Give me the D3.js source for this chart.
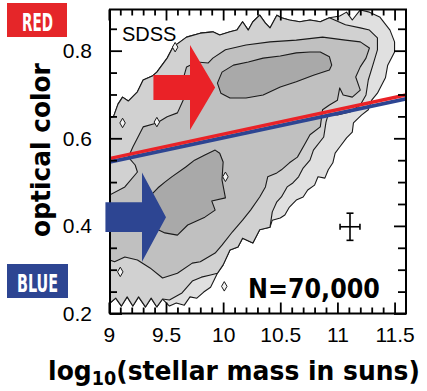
<!DOCTYPE html>
<html><head><meta charset="utf-8">
<script src="https://cdn.jsdelivr.net/npm/d3@7"></script>
<style>body{margin:0;background:#fff}svg{display:block}</style>
</head><body><svg id="c" width="427" height="391"></svg>
<script>
// ---------- data (stellar mass [log10 Msun], optical colour) ----------
const xTickValues = [9, 9.5, 10, 10.5, 11, 11.5];
const xTickLabels = ["9", "9.5", "10", "10.5", "11", "11.5"];
const xMinorTicks = [9.1,9.2,9.3,9.4,9.6,9.7,9.8,9.9,10.1,10.2,10.3,10.4,10.6,10.7,10.8,10.9,11.1,11.2,11.3,11.4];
const yTickValues = [0.2, 0.4, 0.6, 0.8];
const yTickLabels = ["0.2", "0.4", "0.6", "0.8"];
const yMinorTicks = [0.25,0.3,0.35,0.45,0.5,0.55,0.65,0.7,0.75,0.85];

const contourOuter = [[8.96,0.222],[8.96,0.642],[9.04,0.649],[9.08,0.678],[9.12,0.694],[9.17,0.685],[9.25,0.706],[9.30,0.733],[9.38,0.742],[9.42,0.751],[9.51,0.783],[9.56,0.808],[9.68,0.831],[9.80,0.840],[9.91,0.843],[9.97,0.836],[10.06,0.843],[10.12,0.847],[10.17,0.866],[10.22,0.847],[10.26,0.866],[10.32,0.881],[10.37,0.863],[10.41,0.852],[10.47,0.881],[10.51,0.875],[10.58,0.870],[10.67,0.866],[10.76,0.870],[10.85,0.866],[10.93,0.875],[11.02,0.879],[11.08,0.888],[11.13,0.870],[11.20,0.893],[11.28,0.888],[11.37,0.877],[11.46,0.847],[11.50,0.820],[11.50,0.797],[11.44,0.767],[11.42,0.738],[11.35,0.703],[11.30,0.687],[11.27,0.665],[11.21,0.653],[11.14,0.635],[11.13,0.614],[11.08,0.601],[11.02,0.580],[10.98,0.566],[10.96,0.544],[10.92,0.528],[10.89,0.509],[10.83,0.512],[10.80,0.493],[10.74,0.482],[10.70,0.466],[10.64,0.459],[10.58,0.443],[10.54,0.425],[10.50,0.418],[10.43,0.413],[10.41,0.397],[10.32,0.391],[10.26,0.361],[10.17,0.372],[10.13,0.352],[10.06,0.345],[10.00,0.311],[9.95,0.292],[9.89,0.260],[9.83,0.249],[9.77,0.235],[9.71,0.238],[9.66,0.219],[9.59,0.224],[9.53,0.217],[9.47,0.233],[9.42,0.215],[9.37,0.235],[9.32,0.215],[9.26,0.238],[9.21,0.217],[9.16,0.238],[9.11,0.217],[9.06,0.235],[9.01,0.224]];

const contourMid = [[8.96,0.222],[8.96,0.642],[9.04,0.649],[9.08,0.678],[9.12,0.694],[9.17,0.685],[9.25,0.706],[9.30,0.733],[9.38,0.742],[9.42,0.751],[9.51,0.783],[9.56,0.808],[9.68,0.831],[9.80,0.840],[9.91,0.843],[9.97,0.836],[10.06,0.843],[10.12,0.847],[10.17,0.866],[10.22,0.847],[10.26,0.866],[10.32,0.881],[10.37,0.863],[10.41,0.852],[10.47,0.881],[10.51,0.875],[10.58,0.870],[10.67,0.866],[10.76,0.870],[10.85,0.866],[10.93,0.875],[11.07,0.859],[11.20,0.852],[11.28,0.847],[11.35,0.829],[11.35,0.802],[11.31,0.767],[11.27,0.733],[11.25,0.699],[11.20,0.676],[11.11,0.660],[11.00,0.653],[10.92,0.655],[10.90,0.637],[10.88,0.603],[10.79,0.573],[10.76,0.550],[10.70,0.532],[10.66,0.512],[10.61,0.498],[10.56,0.489],[10.51,0.466],[10.47,0.455],[10.43,0.432],[10.41,0.397],[10.32,0.391],[10.26,0.361],[10.17,0.372],[10.13,0.352],[10.06,0.345],[10.00,0.311],[9.95,0.292],[9.89,0.288],[9.81,0.283],[9.73,0.274],[9.64,0.247],[9.53,0.231],[9.47,0.233],[9.42,0.215],[9.37,0.235],[9.32,0.215],[9.26,0.238],[9.21,0.217],[9.16,0.238],[9.11,0.217],[9.06,0.235],[9.01,0.224]];

const contourMain = [[8.96,0.327],[8.96,0.471],[9.01,0.471],[9.14,0.489],[9.25,0.523],[9.23,0.539],[9.17,0.557],[9.21,0.580],[9.30,0.626],[9.42,0.635],[9.51,0.649],[9.60,0.658],[9.65,0.687],[9.64,0.726],[9.68,0.763],[9.77,0.774],[9.87,0.772],[9.91,0.783],[10.02,0.802],[10.20,0.813],[10.41,0.820],[10.64,0.824],[10.87,0.831],[11.07,0.824],[11.20,0.820],[11.28,0.806],[11.25,0.783],[11.20,0.763],[11.16,0.740],[11.20,0.710],[11.13,0.694],[11.05,0.699],[11.02,0.715],[11.00,0.687],[10.93,0.676],[10.87,0.665],[10.85,0.626],[10.76,0.608],[10.72,0.589],[10.65,0.557],[10.58,0.544],[10.51,0.528],[10.47,0.521],[10.39,0.512],[10.37,0.489],[10.32,0.466],[10.24,0.436],[10.17,0.413],[10.08,0.386],[9.99,0.356],[9.93,0.338],[9.80,0.318],[9.73,0.315],[9.60,0.292],[9.47,0.281],[9.36,0.304],[9.25,0.322],[9.14,0.329],[9.05,0.318]];

const coreRed = [[9.95,0.726],[9.99,0.751],[10.09,0.767],[10.22,0.774],[10.35,0.783],[10.50,0.788],[10.64,0.795],[10.76,0.797],[10.85,0.797],[10.93,0.786],[10.95,0.767],[10.93,0.756],[10.79,0.744],[10.64,0.729],[10.50,0.717],[10.35,0.699],[10.20,0.692],[10.06,0.692],[9.98,0.703]];

const coreBlue = [[9.36,0.468],[9.43,0.487],[9.49,0.500],[9.55,0.512],[9.67,0.534],[9.75,0.550],[9.84,0.562],[9.93,0.573],[9.97,0.566],[10.00,0.546],[9.99,0.505],[10.02,0.464],[9.90,0.457],[9.93,0.436],[9.84,0.420],[9.69,0.402],[9.60,0.379],[9.49,0.384],[9.40,0.395],[9.34,0.425]];

const islands = [[9.58,0.808],[9.12,0.635],[9.42,0.637],[10.01,0.262],[10.02,0.512],[9.10,0.295]];

const sepMass = [9.01, 11.6];
const sepRed  = [0.554, 0.699];
const sepBlue = [0.546, 0.690];

const errMass = 11.11, errColor = 0.398, errDm = 0.087, errDc = 0.031;

// annotation arrows in data units
const redArrow  = {tail: 9.39, base: 9.71, tip: 9.93, y: 0.716, shaft: 0.0285, head: 0.097};
const blueArrow = {tail: 8.97, base: 9.29, tip: 9.50, y: 0.420, shaft: 0.034, head: 0.102};

// ---------- drawing ----------
const svg = d3.select("#c");
const x = d3.scaleLinear().domain([9.01, 11.6]).range([110, 406]);
const y = d3.scaleLinear().domain([0.2, 0.894]).range([313.5, 9.5]);
const RED = "#ea2227", BLUE = "#2d4592";

svg.append("defs").append("clipPath").attr("id", "clip")
  .append("rect").attr("x", 110).attr("y", 9.5).attr("width", 296).attr("height", 304);

const plot = svg.append("g").attr("clip-path", "url(#clip)");
const line = d3.line().x(d => x(d[0])).y(d => y(d[1]));

const levels = [
  {pts: contourOuter, fill: "#e0e0e0"},
  {pts: contourMid,   fill: "#d1d1d1"},
  {pts: contourMain,  fill: "#c0c0c0"},
  {pts: coreRed,      fill: "#a9a9a9"},
  {pts: coreBlue,     fill: "#a9a9a9"}
];
plot.selectAll("path.lvl").data(levels).join("path").attr("class", "lvl")
  .attr("d", d => line(d.pts) + "Z")
  .attr("fill", d => d.fill).attr("stroke", "#1a1a1a").attr("stroke-width", 1.1)
  .attr("stroke-linejoin", "round");

plot.selectAll("path.isl").data(islands).join("path").attr("class", "isl")
  .attr("transform", d => `translate(${x(d[0])},${y(d[1])})`)
  .attr("d", d3.symbol(d3.symbolDiamond, 26))
  .attr("fill", "#f4f4f4").attr("stroke", "#1a1a1a").attr("stroke-width", 1);

// dividing line
const sepR = sepMass.map((m, i) => [m, sepRed[i]]);
const sepB = sepMass.map((m, i) => [m, sepBlue[i]]);
plot.append("path").attr("d", line(sepB)).attr("stroke", BLUE).attr("stroke-width", 3.6).attr("fill", "none");
plot.append("path").attr("d", line(sepR)).attr("stroke", RED).attr("stroke-width", 3.4).attr("fill", "none");

// axes
function styleAxis(g) {
  g.select(".domain").remove();
  g.selectAll(".tick line").attr("stroke", "#000").attr("stroke-width", 1.8);
  g.selectAll(".tick text").attr("fill", "#000")
    .style("font-family", "'Liberation Sans', Arial, sans-serif").style("font-size", "21px");
}
svg.append("g").attr("transform", "translate(110,0)")
  .call(d3.axisLeft(y).tickValues(yTickValues).tickFormat((d, i) => yTickLabels[i]).tickSize(-12).tickPadding(18)).call(styleAxis);
svg.append("g").attr("transform", "translate(110,0)")
  .call(d3.axisLeft(y).tickValues(yMinorTicks).tickFormat("").tickSize(-7)).call(styleAxis);
svg.append("g").attr("transform", "translate(406,0)")
  .call(d3.axisRight(y).tickValues(yTickValues).tickFormat("").tickSize(-12)).call(styleAxis);
svg.append("g").attr("transform", "translate(406,0)")
  .call(d3.axisRight(y).tickValues(yMinorTicks).tickFormat("").tickSize(-8)).call(styleAxis);
svg.append("g").attr("transform", "translate(0,313.5)")
  .call(d3.axisBottom(x).tickValues(xTickValues).tickFormat((d, i) => xTickLabels[i]).tickSize(-11).tickPadding(14)).call(styleAxis);
svg.append("g").attr("transform", "translate(0,313.5)")
  .call(d3.axisBottom(x).tickValues(xMinorTicks).tickFormat("").tickSize(-6)).call(styleAxis);
svg.append("g").attr("transform", "translate(0,9.5)")
  .call(d3.axisTop(x).tickValues(xTickValues).tickFormat("").tickSize(-11)).call(styleAxis);
svg.append("g").attr("transform", "translate(0,9.5)")
  .call(d3.axisTop(x).tickValues(xMinorTicks).tickFormat("").tickSize(-6)).call(styleAxis);

svg.append("rect").attr("x", 110).attr("y", 9.5).attr("width", 296).attr("height", 304)
  .attr("fill", "none").attr("stroke", "#000").attr("stroke-width", 2);

// arrows
function arrowPts(a) {
  return [[a.tail, a.y + a.shaft], [a.base, a.y + a.shaft], [a.base, a.y + a.head], [a.tip, a.y],
          [a.base, a.y - a.head], [a.base, a.y - a.shaft], [a.tail, a.y - a.shaft]];
}
svg.append("path").attr("d", line(arrowPts(redArrow)) + "Z").attr("fill", RED);
svg.append("path").attr("d", line(arrowPts(blueArrow)) + "Z").attr("fill", BLUE);

// error bar
const eb = svg.append("g").attr("stroke", "#000").attr("stroke-width", 1.6);
const ex = x(errMass), ey = y(errColor);
eb.append("line").attr("x1", x(errMass - errDm)).attr("x2", x(errMass + errDm)).attr("y1", ey).attr("y2", ey);
eb.append("line").attr("x1", ex).attr("x2", ex).attr("y1", y(errColor - errDc)).attr("y2", y(errColor + errDc));
eb.append("line").attr("x1", x(errMass - errDm)).attr("x2", x(errMass - errDm)).attr("y1", ey - 3).attr("y2", ey + 3);
eb.append("line").attr("x1", x(errMass + errDm)).attr("x2", x(errMass + errDm)).attr("y1", ey - 3).attr("y2", ey + 3);
eb.append("line").attr("x1", ex - 3.5).attr("x2", ex + 3.5).attr("y1", y(errColor - errDc)).attr("y2", y(errColor - errDc));
eb.append("line").attr("x1", ex - 3.5).attr("x2", ex + 3.5).attr("y1", y(errColor + errDc)).attr("y2", y(errColor + errDc));

// texts
svg.append("text").attr("x", x(9.115)).attr("y", y(0.822)).text("SDSS")
  .style("font-family", "'Liberation Sans', Arial, sans-serif").style("font-size", "20px");

svg.append("text").attr("x", x(10.217)).attr("y", y(0.235)).text("N=70,000")
  .attr("textLength", 132).attr("lengthAdjust", "spacingAndGlyphs")
  .style("font-family", "'DejaVu Sans', sans-serif").style("font-weight", "bold").style("font-size", "26px");

// RED / BLUE labels
svg.append("rect").attr("x", 7).attr("y", 3).attr("width", 60).attr("height", 34).attr("fill", "#e52629");
svg.append("text").attr("x", 22).attr("y", 30.5).text("RED").attr("fill", "#fff")
  .attr("textLength", 31).attr("lengthAdjust", "spacingAndGlyphs")
  .style("font-family", "'Liberation Sans Narrow', 'DejaVu Sans Condensed', sans-serif").style("font-weight", "bold").style("font-size", "25px");
svg.append("rect").attr("x", 7).attr("y", 264).attr("width", 61).attr("height", 34).attr("fill", BLUE);
svg.append("text").attr("x", 17).attr("y", 292).text("BLUE").attr("fill", "#fff")
  .attr("textLength", 41).attr("lengthAdjust", "spacingAndGlyphs")
  .style("font-family", "'Liberation Sans Narrow', 'DejaVu Sans Condensed', sans-serif").style("font-weight", "bold").style("font-size", "25px");

// axis titles (scaled to fit width)
function fit(sel, target) {
  const w = sel.node().getBBox().width;
  return target / w;
}
const yt = svg.append("text").attr("text-anchor", "middle").text("optical color")
  .style("font-family", "'DejaVu Sans', sans-serif").style("font-weight", "bold").style("font-size", "26px");
const sy = fit(yt, 174);
yt.attr("transform", `translate(50,150) rotate(-90) scale(${sy},1)`);

const xt = svg.append("text").attr("text-anchor", "middle")
  .style("font-family", "'DejaVu Sans', sans-serif").style("font-weight", "bold").style("font-size", "27px");
xt.append("tspan").text("log");
xt.append("tspan").text("10").style("font-size", "19px").attr("dy", 5);
xt.append("tspan").text("(stellar mass in suns)").attr("dy", -5);
const sx = fit(xt, 372);
xt.attr("transform", `translate(234,380) scale(${sx},1)`);
</script></body></html>
